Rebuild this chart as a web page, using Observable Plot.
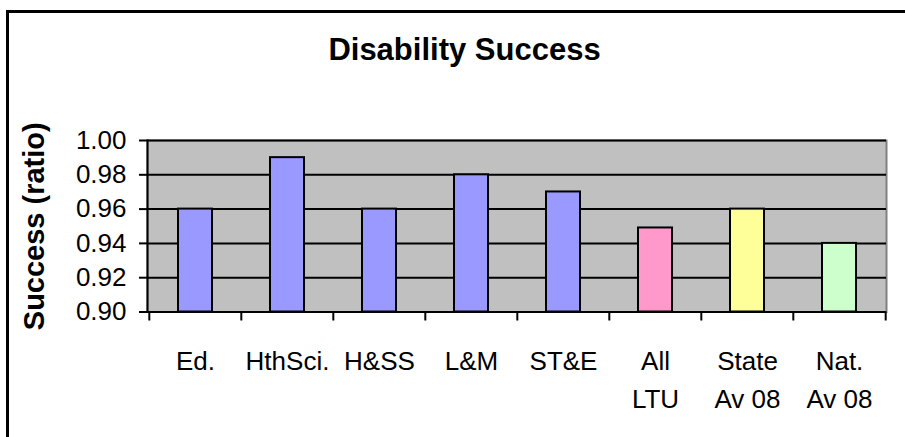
<!DOCTYPE html>
<html>
<head>
<meta charset="utf-8">
<script src="https://cdn.jsdelivr.net/npm/d3@7"></script>
<script src="https://cdn.jsdelivr.net/npm/@observablehq/plot@0.6"></script>
<style>
  body { margin: 0; background: #fff; }
  #wrap { position: relative; width: 905px; height: 437px; overflow: hidden; background: #fff; font-family: Arial, "Liberation Sans", sans-serif; }
  #border { position: absolute; left: 6px; top: 10px; width: 1000px; height: 1000px; border: 3px solid #000; box-sizing: border-box; }
  #title { position: absolute; left: 7px; width: 915px; top: 34px; text-align: center; font-size: 31px; line-height: 31px; font-weight: bold; color: #000; }
  #chart { position: absolute; left: 0; top: 0; }
</style>
</head>
<body>
<div id="wrap">
  <div id="border"></div>
  <div id="title">Disability Success</div>
  <div id="chart"></div>
</div>
<script>
const categories = ["Ed.", "HthSci.", "H&SS", "L&M", "ST&E", "All\nLTU", "State\nAv 08", "Nat.\nAv 08"];
const successValues = [0.96, 0.99, 0.96, 0.98, 0.97, 0.949, 0.96, 0.94];
const groups = ["College", "College", "College", "College", "College", "LTU", "State", "National"];
const groupDomain = ["College", "LTU", "State", "National"];
const groupColors = ["#9999FF", "#FF99CC", "#FFFF99", "#CCFFCC"];
const yTicks = [0.90, 0.92, 0.94, 0.96, 0.98, 1.00];
const yLabel = "Success (ratio)";

const data = categories.map((c, i) => ({category: c, value: successValues[i], group: groups[i]}));

const W = 905, H = 437, ML = 147, MR = 19, MT = 140, MB = 125.5;
const step = (W - ML - MR) / categories.length;

const chart = Plot.plot({
  width: W,
  height: H,
  marginLeft: ML,
  marginRight: MR,
  marginTop: MT,
  marginBottom: MB,
  style: {fontFamily: "Arial, 'Liberation Sans', sans-serif", fontSize: "26px", color: "#000", background: "transparent", overflow: "visible"},
  x: {domain: categories, padding: 0, label: null},
  y: {domain: [0.9, 1.0], label: null},
  color: {domain: groupDomain, range: groupColors},
  marks: [
    Plot.frame({fill: "#C0C0C0", stroke: "#808080", strokeWidth: 2}),
    Plot.ruleY(yTicks, {stroke: "#000", strokeWidth: 2}),
    Plot.barY(data, {x: "category", y1: 0.9, y2: "value", fill: "group", stroke: "#000", strokeWidth: 2, insetLeft: 29, insetRight: 29}),
    Plot.frame({anchor: "left", stroke: "#000", strokeWidth: 2}),
    Plot.axisY({ticks: yTicks, tickFormat: d3.format(".2f"), tickSize: 8, tickPadding: 13, strokeWidth: 2, label: null, fill: "#000"}),
    Plot.axisX({tickSize: 0, tickPadding: 31, label: null, lineHeight: 1.46, fill: "#000"}),
    Plot.axisX({tickSize: 9, tickFormat: () => "", dx: -step / 2, strokeWidth: 2, label: null}),
    Plot.axisX({ticks: [categories[categories.length - 1]], tickSize: 9, tickFormat: () => "", dx: step / 2, strokeWidth: 2, label: null}),
    Plot.text([yLabel], {frameAnchor: "left", rotate: -90, dx: -104, textAnchor: "middle", lineAnchor: "bottom", fontWeight: "bold", fontSize: 29, fill: "#000"})
  ]
});
document.getElementById("chart").appendChild(chart);
</script>
</body>
</html>
